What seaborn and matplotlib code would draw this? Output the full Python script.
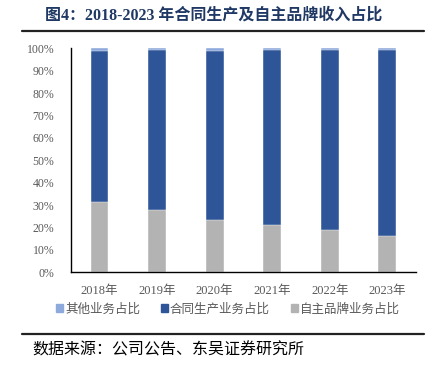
import matplotlib
matplotlib.use("Agg")
import matplotlib.pyplot as plt
import seaborn as sns
import pandas as pd
from matplotlib.lines import Line2D
from matplotlib.patches import Patch

# data (percent of revenue)
years = ['2018年', '2019年', '2020年', '2021年', '2022年', '2023年']
own_brand = [31.2, 27.6, 23.3, 21.1, 18.8, 16.0]
other = [1.4, 0.8, 1.4, 0.8, 0.8, 0.8]
contract = [100 - b - o for b, o in zip(own_brand, other)]

df = pd.DataFrame({'year': years, 'own': own_brand, 'contract': contract, 'other': other})
df['own_contract'] = df['own'] + df['contract']
df['total'] = df['own_contract'] + df['other']

c_other = '#8EA9DB'
c_contract = '#2E5597'
c_own = '#B3B3B3'

sns.set_style('white')
plt.rcParams['font.family'] = ['Liberation Serif', 'Noto Sans CJK SC', 'DejaVu Sans']

fig = plt.figure(figsize=(4.37, 3.65), dpi=100)
ax = fig.add_axes([0.162, 0.254, 0.79, 0.614])

# stacked bars by layering cumulative totals
sns.barplot(data=df, x='year', y='total', color=c_other, width=0.31, ax=ax,
            saturation=1, edgecolor='white', linewidth=0.3)
sns.barplot(data=df, x='year', y='own_contract', color=c_contract, width=0.31, ax=ax,
            saturation=1, edgecolor='white', linewidth=0.3)
sns.barplot(data=df, x='year', y='own', color=c_own, width=0.31, ax=ax,
            saturation=1, edgecolor='white', linewidth=0.3)

ax.set_xlim(-0.5, len(years) - 0.5)
ax.set_ylim(0, 100)
ax.set_yticks(range(0, 101, 10))
ax.set_yticklabels([f'{v}%' for v in range(0, 101, 10)])
ax.set_xlabel('')
ax.set_ylabel('')
for s in ['top', 'right']:
    ax.spines[s].set_visible(False)
for s in ['left', 'bottom']:
    ax.spines[s].set_color('black')
    ax.spines[s].set_linewidth(1.0)

ax.tick_params(axis='y', direction='in', length=3, width=0.8, colors='black',
               labelcolor='#595959', labelsize=8.5, pad=12)
ax.set_xticks(range(len(years)))
ax.set_xticklabels(years)
ax.tick_params(axis='x', length=0, labelcolor='#595959', labelsize=9, pad=9)
# category boundary ticks on x axis
ax.set_xticks([i + 0.5 for i in range(len(years))], minor=True)
ax.tick_params(axis='x', which='minor', direction='in', length=3, width=0.8, colors='black')

handles = [Patch(color=c_other), Patch(color=c_contract), Patch(color=c_own)]
labels = ['其他业务占比', '合同生产业务占比', '自主品牌业务占比']
fig.legend(handles, labels, loc='center', bbox_to_anchor=(0.522, 0.153), ncol=3,
           frameon=False, fontsize=9, handlelength=0.55, handleheight=0.55,
           handletextpad=0.15, columnspacing=1.7, labelcolor='#595959')

# title and rules
fig.text(0.103, 0.958, '图4：2018-2023 年合同生产及自主品牌收入占比', fontsize=11.5,
         fontweight='bold', color='#1F3864', va='center', ha='left')
fig.add_artist(Line2D([0.05, 0.97], [1 - 31 / 365, 1 - 31 / 365], color='#222222', lw=1.6))
fig.add_artist(Line2D([0.05, 0.97], [1 - 334 / 365, 1 - 334 / 365], color='#222222', lw=1.6))
fig.text(0.073, 1 - 350 / 365, '数据来源：公司公告、东吴证券研究所', fontsize=11.5,
         color='black', va='center', ha='left')

fig.savefig('out.png', dpi=100)
